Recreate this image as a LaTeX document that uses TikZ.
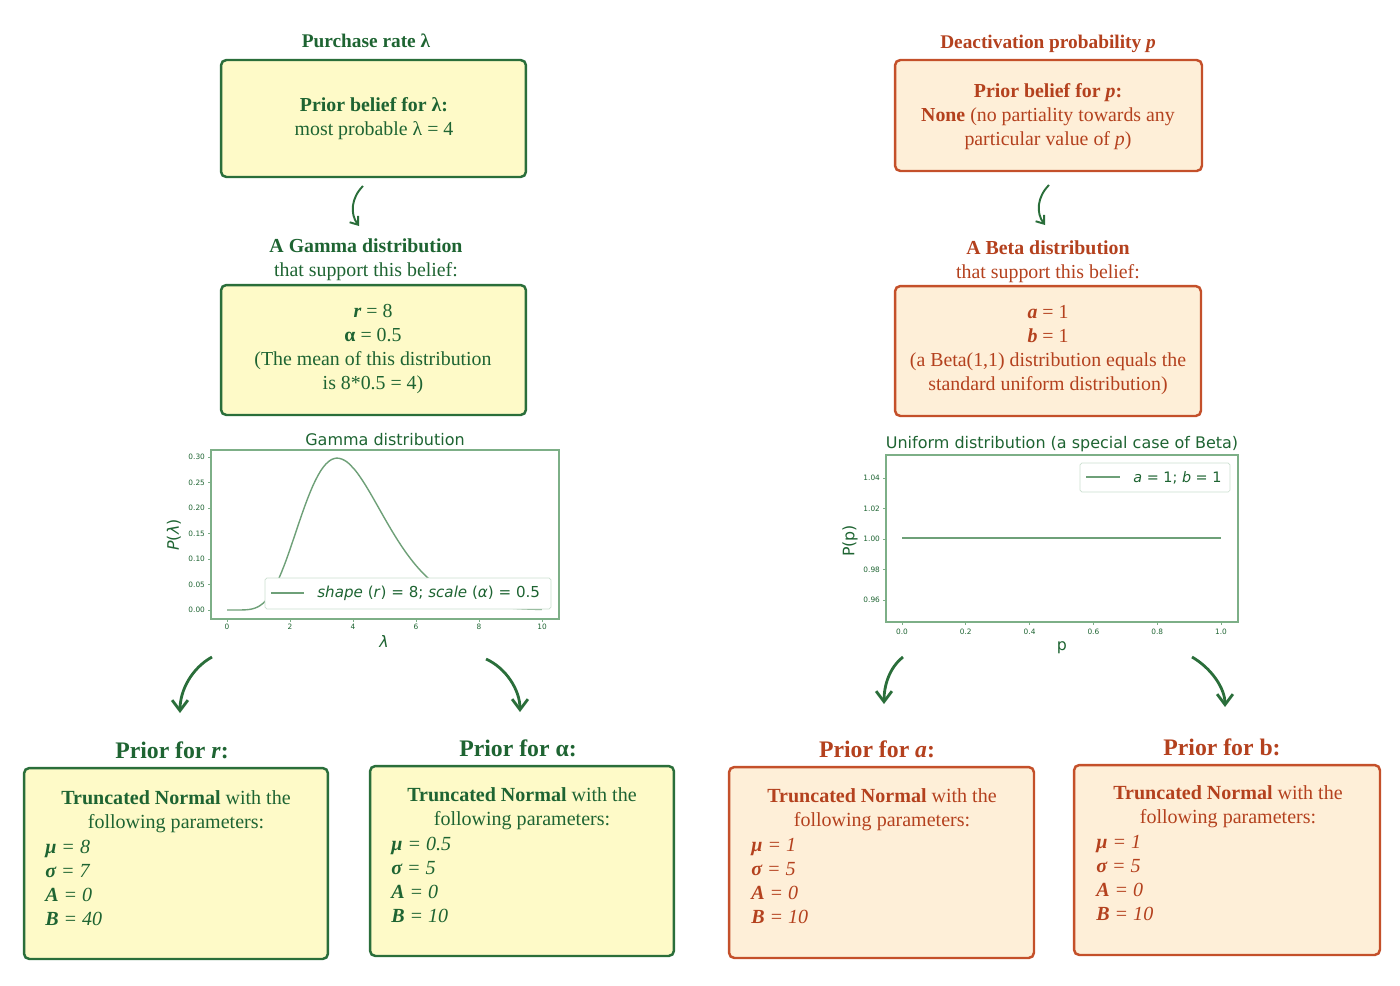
\documentclass[tikz,border=0pt]{standalone}
\usepackage{fontspec}
\setmainfont{Liberation Serif}
\newfontfamily\plotfont{DejaVu Sans}
\usetikzlibrary{arrows.meta}

\definecolor{lamline}{RGB}{42,110,58}
\definecolor{lamtext}{RGB}{30,100,50}
\definecolor{lamfill}{RGB}{254,250,200}
\definecolor{pline}{RGB}{196,80,42}
\definecolor{ptext}{RGB}{180,65,30}
\definecolor{pfill}{RGB}{254,239,216}
\definecolor{frm}{RGB}{125,175,135}
\definecolor{crv}{RGB}{110,160,120}

\begin{document}
\begin{tikzpicture}
[x=0.02cm,y=-0.02cm
,box/.style={draw,rounded corners=3pt,line width=1.4pt}
,lbox/.style={box,draw=lamline,fill=lamfill}
,pbox/.style={box,draw=pline,fill=pfill}
,ltxt/.style={text=lamtext,align=center,font=\fontsize{11.3}{13.6}\selectfont}
,ptxt/.style={ltxt,text=ptext}
,lhead/.style={text=lamtext,font=\fontsize{13.5}{16}\selectfont\bfseries}
,phead/.style={lhead,text=ptext}
,lparm/.style={text=lamtext,align=left,anchor=west,inner sep=0pt,font=\fontsize{11.4}{13.6}\selectfont\itshape}
,pparm/.style={lparm,text=ptext}
,flow/.style={draw=lamline,line width=1.6pt,arrows={-Straight Barb[length=6pt,width=9pt]}}
,sflow/.style={flow,line width=1.1pt,arrows={-Straight Barb[length=4pt,width=6pt]}}
,frame/.style={draw=frm,line width=0.9pt}
,curve/.style={draw=crv,line width=0.8pt}
,legend/.style={draw=frm!40,fill=white,rounded corners=1pt,line width=0.4pt}
,ptitle/.style={text=lamtext,font=\plotfont\fontsize{9.1}{11}\selectfont}
,axlab/.style={text=lamtext,font=\plotfont\fontsize{9}{11}\selectfont}
,ytick/.style={text=lamtext,anchor=east,inner sep=1pt,font=\plotfont\fontsize{4.2}{5}\selectfont}
,xtick/.style={ytick,anchor=center}
]
\useasboundingbox (0,0) rectangle (1400,985);

% purchase rate side
\node[ltxt,font=\fontsize{11}{13.6}\selectfont\bfseries] (lamt) at (366,41) {Purchase rate λ};
\node[lbox,minimum width=6.1cm,minimum height=2.34cm] (lam1) at (373.5,118.5) {};
\node[ltxt] (lam1t) at (374,119) {\textbf{Prior belief for λ:}\\most probable λ = 4};
\node[ltxt] (gamt) at (366,260) {\textbf{A Gamma distribution}\\that support this belief:};
\node[lbox,minimum width=6.1cm,minimum height=2.6cm] (lam2) at (373.5,350) {};
\node[ltxt] (lam2t) at (373,349) {\textbf{\textit{r}} = 8\\\textbf{α} = 0.5\\(The mean of this distribution\\is 8*0.5 = 4)};

% deactivation side
\node[ptxt,font=\fontsize{11}{13.6}\selectfont\bfseries] (pt) at (1048,44) {Deactivation probability \textit{p}};
\node[pbox,minimum width=6.14cm,minimum height=2.22cm] (p1) at (1048.5,115.5) {};
\node[ptxt] (p1t) at (1048,116.5) {\textbf{Prior belief for \textit{p}:}\\\textbf{None} (no partiality towards any\\particular value of \textit{p})};
\node[ptxt] (betat) at (1048,262) {\textbf{A Beta distribution}\\that support this belief:};
\node[pbox,minimum width=6.12cm,minimum height=2.6cm] (p2) at (1048,351) {};
\node[ptxt] (p2t) at (1048,350) {\textbf{\textit{a}} = 1\\\textbf{\textit{b}} = 1\\(a Beta(1,1) distribution equals the\\standard uniform distribution)};

% small arrows
\coordinate (lama) at (363,186);
\coordinate (lamb) at (359,226);
\coordinate (pa) at (1049,185);
\coordinate (pb) at (1045,225);
\draw[sflow] (lama) .. controls (351,198) and (350,214) .. (lamb);
\draw[sflow] (pa) .. controls (1037,197) and (1036,213) .. (pb);

% gamma plot
\node[ptitle] (gplt) at (385,440) {Gamma distribution};
\draw[frame] (211,450) rectangle (559,619);
\draw[curve] (227,610) -- plot[domain=0.05:10,samples=120] ({227+31.5*\x},{610-510*0.050794*exp(7*ln(\x)-2*\x)});
\node[legend,minimum width=5.72cm,minimum height=0.62cm] (gleg) at (408,593.5) {};
\coordinate (gl1) at (271,593);
\coordinate (gl2) at (304,593);
\draw[curve] (gl1) -- (gl2);
\node[text=lamtext,anchor=west,inner sep=0pt,font=\plotfont\fontsize{8.6}{10}\selectfont] (glegt) at (317,593.5) {\textit{shape} (\textit{r}) = 8; \textit{scale} (\textit{α}) = 0.5};
\draw[frame,line width=0.5pt] (208,610) -- (211,610) (208,584.5) -- (211,584.5) (208,559) -- (211,559) (208,533.5) -- (211,533.5) (208,508) -- (211,508) (208,482.5) -- (211,482.5) (208,457) -- (211,457)
  (227,619) -- (227,622) (290,619) -- (290,622) (353,619) -- (353,622) (416,619) -- (416,622) (479,619) -- (479,622) (542,619) -- (542,622);
\node[ytick] (gy0) at (207,610) {0.00};
\node[ytick] (gy1) at (207,584.5) {0.05};
\node[ytick] (gy2) at (207,559) {0.10};
\node[ytick] (gy3) at (207,533.5) {0.15};
\node[ytick] (gy4) at (207,508) {0.20};
\node[ytick] (gy5) at (207,482.5) {0.25};
\node[ytick] (gy6) at (207,457) {0.30};
\node[xtick] (gx0) at (227,627) {0};
\node[xtick] (gx1) at (290,627) {2};
\node[xtick] (gx2) at (353,627) {4};
\node[xtick] (gx3) at (416,627) {6};
\node[xtick] (gx4) at (479,627) {8};
\node[xtick] (gx5) at (542,627) {10};
\node[axlab] (gxl) at (384,641) {\textit{λ}};
\node[axlab,rotate=90] (gyl) at (174,535) {\textit{P}(\textit{λ})};

% uniform plot
\node[ptitle] (uplt) at (1062,444) {Uniform distribution (a special case of Beta)};
\draw[frame] (886,455) rectangle (1238,622);
\coordinate (u0) at (902,538);
\coordinate (u1) at (1221,538);
\draw[curve] (u0) -- (u1);
\node[legend,minimum width=3cm,minimum height=0.58cm] (uleg) at (1155,477.5) {};
\coordinate (ul1) at (1086,477);
\coordinate (ul2) at (1120,477);
\draw[curve] (ul1) -- (ul2);
\node[text=lamtext,anchor=west,inner sep=0pt,font=\plotfont\fontsize{8.2}{10}\selectfont] (ulegt) at (1133,478) {\textit{a} = 1; \textit{b} = 1};
\draw[frame,line width=0.5pt] (883,478) -- (886,478) (883,508.5) -- (886,508.5) (883,539) -- (886,539) (883,569.5) -- (886,569.5) (883,600) -- (886,600)
  (902,622) -- (902,625) (965.8,622) -- (965.8,625) (1029.6,622) -- (1029.6,625) (1093.4,622) -- (1093.4,625) (1157.2,622) -- (1157.2,625) (1221,622) -- (1221,625);
\node[ytick] (uy0) at (882,600) {0.96};
\node[ytick] (uy1) at (882,569.5) {0.98};
\node[ytick] (uy2) at (882,539) {1.00};
\node[ytick] (uy3) at (882,508.5) {1.02};
\node[ytick] (uy4) at (882,478) {1.04};
\node[xtick] (ux0) at (902,632) {0.0};
\node[xtick] (ux1) at (965.8,632) {0.2};
\node[xtick] (ux2) at (1029.6,632) {0.4};
\node[xtick] (ux3) at (1093.4,632) {0.6};
\node[xtick] (ux4) at (1157.2,632) {0.8};
\node[xtick] (ux5) at (1221,632) {1.0};
\node[axlab] (uxl) at (1062,648) {p};
\node[axlab,rotate=90] (uyl) at (850,541) {P(p)};

% big arrows
\coordinate (ra) at (212,657);
\coordinate (rb) at (180,713);
\coordinate (ala) at (486,659);
\coordinate (alb) at (520,712);
\coordinate (aa) at (903,657);
\coordinate (ab) at (884,704);
\coordinate (ba) at (1192,657);
\coordinate (bb) at (1225,707);
\draw[flow] (ra) .. controls (192,668) and (180,690) .. (rb);
\draw[flow] (ala) .. controls (506,668) and (520,690) .. (alb);
\draw[flow] (aa) .. controls (889,668) and (884,686) .. (ab);
\draw[flow] (ba) .. controls (1211,668) and (1225,688) .. (bb);

% priors
\node[lhead] (rt) at (172,750) {Prior for \textit{r}:};
\node[lbox,minimum width=6.08cm,minimum height=3.82cm] (r) at (176,863.5) {};
\node[ltxt,font=\fontsize{11.4}{13.6}\selectfont] (rh) at (176,812) {\textbf{Truncated Normal} with the\\following parameters:};
\node[lparm] (rp) at (45,883) {\textbf{μ} = 8\\\textbf{σ} = 7\\\textbf{A} = 0\\\textbf{B} = 40};

\node[lhead] (alt) at (518,748) {Prior for α:};
\node[lbox,minimum width=6.08cm,minimum height=3.8cm] (al) at (522,861) {};
\node[ltxt,font=\fontsize{11.4}{13.6}\selectfont] (alh) at (522,809) {\textbf{Truncated Normal} with the\\following parameters:};
\node[lparm] (alp) at (391,880) {\textbf{μ} = 0.5\\\textbf{σ} = 5\\\textbf{A} = 0\\\textbf{B} = 10};

\node[phead] (at) at (877,749) {Prior for \textit{a}:};
\node[pbox,minimum width=6.1cm,minimum height=3.82cm] (a) at (881.5,862.5) {};
\node[ptxt,font=\fontsize{11.4}{13.6}\selectfont] (ah) at (882,810) {\textbf{Truncated Normal} with the\\following parameters:};
\node[pparm] (ap) at (751,881) {\textbf{μ} = 1\\\textbf{σ} = 5\\\textbf{A} = 0\\\textbf{B} = 10};

\node[phead] (bt) at (1222,747) {Prior for b:};
\node[pbox,minimum width=6.12cm,minimum height=3.8cm] (b) at (1227,860) {};
\node[ptxt,font=\fontsize{11.4}{13.6}\selectfont] (bh) at (1228,807) {\textbf{Truncated Normal} with the\\following parameters:};
\node[pparm] (bp) at (1096,878) {\textbf{μ} = 1\\\textbf{σ} = 5\\\textbf{A} = 0\\\textbf{B} = 10};
\end{tikzpicture}
\end{document}
